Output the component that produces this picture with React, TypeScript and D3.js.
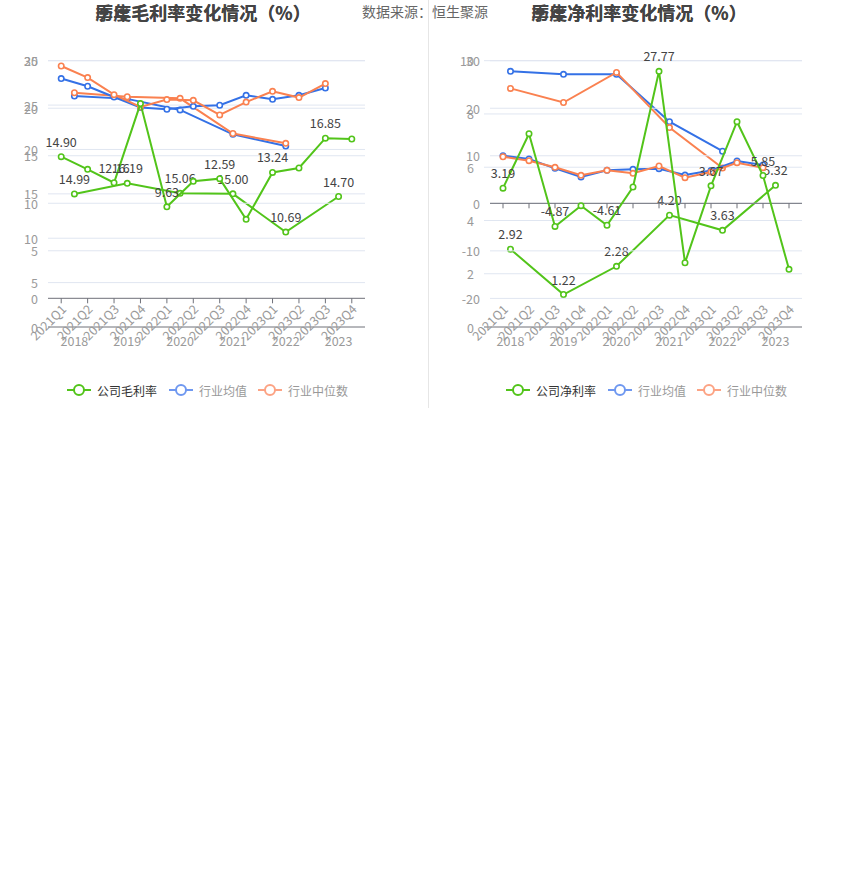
import React, { useEffect } from "react";
import * as d3 from "d3";

const quarters = ["2021Q1", "2021Q2", "2021Q3", "2021Q4", "2022Q1", "2022Q2", "2022Q3", "2022Q4", "2023Q1", "2023Q2", "2023Q3", "2023Q4"];
const years = ["2018", "2019", "2020", "2021", "2022", "2023"];

// Gross margin (%)
const qGrossCompany = [14.90, 13.57, 12.16, 20.49, 9.63, 12.31, 12.59, 8.31, 13.24, 13.71, 16.85, 16.76];
const qGrossAvg: (number | null)[] = [23.12, 22.31, 21.18, 20.07, 19.89, 20.20, 20.31, 21.36, 20.94, 21.36, 22.13, null];
const qGrossMed: (number | null)[] = [24.44, 23.22, 21.43, 20.13, 20.91, 20.83, 19.29, 20.65, 21.78, 21.12, 22.59, null];
const yGrossCompany = [14.99, 16.19, 15.06, 15.00, 10.69, 14.70];
const yGrossAvg: (number | null)[] = [26.02, 25.70, 24.45, 21.71, 20.39, null];
const yGrossMed: (number | null)[] = [26.39, 25.94, 25.76, 21.80, 20.69, null];

// Net margin (%)
const qNetCompany = [3.19, 14.64, -4.87, -0.50, -4.61, 3.43, 27.77, -12.50, 3.67, 17.17, 5.85, -13.89];
const qNetAvg: (number | null)[] = [10.01, 9.32, 7.36, 5.53, 6.94, 7.15, 7.28, 5.95, 6.90, 8.90, 8.06, null];
const qNetMed: (number | null)[] = [9.80, 8.96, 7.57, 5.89, 6.94, 6.31, 7.85, 5.39, 6.60, 8.54, 7.49, null];
const yNetCompany = [2.92, 1.22, 2.28, 4.20, 3.63, 5.32];
const yNetAvg: (number | null)[] = [9.60, 9.49, 9.49, 7.71, 6.60, null];
const yNetMed: (number | null)[] = [8.96, 8.43, 9.56, 7.49, 5.97, null];

const grossTicksQ = [0, 5, 10, 15, 20, 25];
const grossTicksY = [0, 5, 10, 15, 20, 25, 30];
const netTicksQ = [-20, -10, 0, 10, 20, 30];
const netTicksY = [0, 2, 4, 6, 8, 10];

const legendGross = ["公司毛利率", "行业均值", "行业中位数"];
const legendNet = ["公司净利率", "行业均值", "行业中位数"];

const GREEN = "#52c41a";
const BLUE = "#3471e6";
const ORANGE = "#fa8150";
const LEG_BLUE = "#6f98f0";
const LEG_ORANGE = "#fca384";
const GRID = "#e0e6f1";
const AXIS = "#6e7079";
const LABEL = "#9a9a9a";
const FONT = "'Noto Sans CJK SC', 'Noto Sans', sans-serif";

type Sub = {
  cats: string[];
  left: number;
  right: number;
  domain: [number, number];
  range: [number, number];
  ticks: number[];
  company: number[];
  avg: (number | null)[];
  med: (number | null)[];
  labelEvery: number;
  labelGap: number;
};

function SubChart({ s, kind }: { s: Sub; kind: "q" | "y" }) {
  const x = d3.scaleBand<string>().domain(s.cats).range([s.left, s.right]);
  const y = d3.scaleLinear().domain(s.domain).range(s.range);
  const cx = (c: string) => (x(c) as number) + x.bandwidth() / 2;
  const line = d3
    .line<number | null>()
    .defined((d) => d != null)
    .x((_, i) => cx(s.cats[i]))
    .y((d) => y(d as number));
  const zeroY = y(Math.max(0, s.domain[0]));
  const bottom = s.range[0];
  const series: [(number | null)[], string][] = [
    [s.avg, BLUE],
    [s.med, ORANGE],
    [s.company, GREEN],
  ];
  return (
    <g>
      {s.ticks.map((t) => (
        <g key={"g" + t}>
          {t !== s.domain[0] || s.domain[0] < 0 ? (
            <line x1={s.left} x2={s.right} y1={y(t)} y2={y(t)} stroke={GRID} strokeWidth={1} />
          ) : null}
          <text x={s.left - 10} y={y(t)} textAnchor="end" dominantBaseline="central" fontSize={12.5} fill={LABEL} fontFamily={FONT}>
            {t}
          </text>
        </g>
      ))}
      <line x1={s.left} x2={s.right} y1={zeroY} y2={zeroY} stroke={AXIS} strokeWidth={1} />
      {kind === "q"
        ? s.cats.map((c) => (
            <g key={c}>
              <line x1={cx(c)} x2={cx(c)} y1={zeroY} y2={zeroY + 5} stroke={AXIS} strokeWidth={1} />
              <text
                transform={`translate(${cx(c) + 2},${bottom + 8}) rotate(-45)`}
                textAnchor="end"
                dominantBaseline="central"
                fontSize={12.5}
                fill={LABEL}
                fontFamily={FONT}
              >
                {c}
              </text>
            </g>
          ))
        : s.cats.map((c) => (
            <text key={c} x={cx(c)} y={bottom + 13} textAnchor="middle" dominantBaseline="central" fontSize={12.5} fill={LABEL} fontFamily={FONT}>
              {c}
            </text>
          ))}
      {series.map(([vals, col], k) => (
        <g key={k}>
          <path d={line(vals) || ""} fill="none" stroke={col} strokeWidth={2} />
          {vals.map((v, i) =>
            v == null ? null : (
              <circle key={i} cx={cx(s.cats[i])} cy={y(v)} r={2.7} fill="#fff" stroke={col} strokeWidth={1.6} />
            )
          )}
        </g>
      ))}
      {s.company.map((v, i) =>
        i % s.labelEvery === 0 ? (
          <text key={"l" + i} x={cx(s.cats[i])} y={y(v) - s.labelGap} textAnchor="middle" fontSize={12.5} fill="#444" fontFamily={FONT}>
            {v.toFixed(2)}
          </text>
        ) : null
      )}
    </g>
  );
}

function Legend({ x0, y0, names }: { x0: number; y0: number; names: string[] }) {
  const cols = [GREEN, LEG_BLUE, LEG_ORANGE];
  const offsets = [0, 102, 191];
  return (
    <g>
      {names.map((n, i) => {
        const x = x0 + offsets[i];
        return (
          <g key={n}>
            <line x1={x} x2={x + 24} y1={y0} y2={y0} stroke={cols[i]} strokeWidth={2} />
            <circle cx={x + 12} cy={y0} r={5} fill="#fff" stroke={cols[i]} strokeWidth={2} />
            <text x={x + 30} y={y0} dominantBaseline="central" fontSize={12} fill={i === 0 ? "#333" : "#999"} fontFamily={FONT}>
              {n}
            </text>
          </g>
        );
      })}
    </g>
  );
}

export default function App() {
  useEffect(() => {
    document.body.style.margin = "0";
  }, []);

  const leftQ: Sub = {
    cats: quarters, left: 48, right: 365, domain: [0, 25], range: [298.3, 60.7], ticks: grossTicksQ,
    company: qGrossCompany, avg: qGrossAvg, med: qGrossMed, labelEvery: 2, labelGap: 10,
  };
  const leftY: Sub = {
    cats: years, left: 48, right: 365, domain: [0, 30], range: [327, 60.7], ticks: grossTicksY,
    company: yGrossCompany, avg: yGrossAvg, med: yGrossMed, labelEvery: 1, labelGap: 10,
  };
  const rightQ: Sub = {
    cats: quarters, left: 490, right: 802, domain: [-20, 30], range: [298.4, 60.7], ticks: netTicksQ,
    company: qNetCompany, avg: qNetAvg, med: qNetMed, labelEvery: 2, labelGap: 10,
  };
  const rightY: Sub = {
    cats: years, left: 484, right: 802, domain: [0, 10], range: [327, 60.7], ticks: netTicksY,
    company: yNetCompany, avg: yNetAvg, med: yNetMed, labelEvery: 1, labelGap: 10,
  };

  return (
    <svg width={850} height={890} style={{ position: "absolute", left: 0, top: 0, background: "#fff" }}>
      <rect x={0} y={0} width={850} height={890} fill="#fff" />
      <line x1={428.5} x2={428.5} y1={0} y2={408} stroke="#e6e6e6" strokeWidth={1} />
      {["历年毛利率变化情况（%）", "季度毛利率变化情况（%）"].map((t) => (
        <text key={t} x={203} y={20} textAnchor="middle" fontSize={18} fontWeight="bold" fill="#444" fontFamily={FONT}>
          {t}
        </text>
      ))}
      {["历年净利率变化情况（%）", "季度净利率变化情况（%）"].map((t) => (
        <text key={t} x={639} y={20} textAnchor="middle" fontSize={18} fontWeight="bold" fill="#444" fontFamily={FONT}>
          {t}
        </text>
      ))}
      <text x={362} y={17} fontSize={14} fill="#666" fontFamily={FONT}>
        数据来源：恒生聚源
      </text>
      <SubChart s={leftY} kind="y" />
      <SubChart s={leftQ} kind="q" />
      <SubChart s={rightY} kind="y" />
      <SubChart s={rightQ} kind="q" />
      <Legend x0={67} y0={390} names={legendGross} />
      <Legend x0={506} y0={390} names={legendNet} />
    </svg>
  );
}
